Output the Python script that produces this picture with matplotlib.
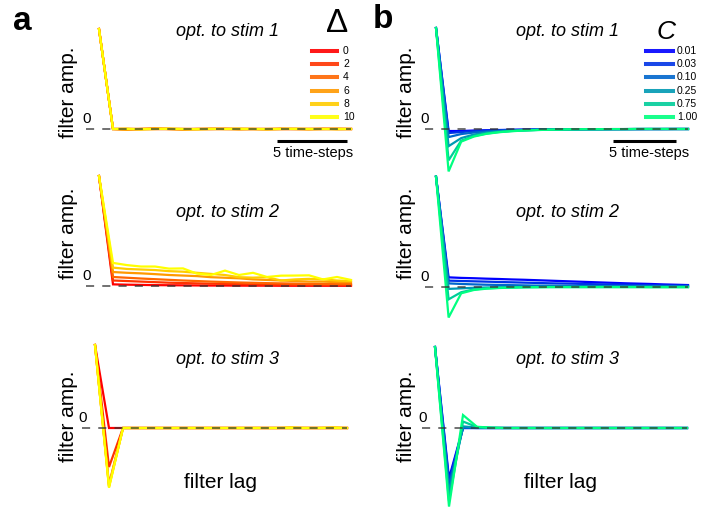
import matplotlib
matplotlib.use("Agg")
import matplotlib.pyplot as plt
from matplotlib.lines import Line2D
import numpy as np

plt.rcParams['font.family'] = ['Liberation Sans', 'DejaVu Sans']

W, H = 701, 508
DPI = 100

# ---------------- data ----------------
delta_labels = ['0', '2', '4', '6', '8', '10']
c_labels = ['0.01', '0.03', '0.10', '0.25', '0.75', '1.00']
titles = ['opt. to stim 1', 'opt. to stim 2', 'opt. to stim 3']

# panel a, stim 1 (lags 0..18)
a1_d0 = [1, 0, 0, 0, 0, 0, 0, 0, 0, 0, 0, 0, 0, 0, 0, 0, 0, 0, 0]
a1_d2 = [1, 0, 0, 0, 0, 0, 0, 0, 0, 0, 0, 0, 0, 0, 0, 0, 0, 0, 0]
a1_d4 = [1, 0, -0.005, 0, 0.004, 0, -0.004, 0, 0, 0.003, 0, 0, -0.003, 0, 0, 0, 0.003, 0, 0]
a1_d6 = [1, 0, -0.008, 0, 0.006, 0, -0.006, 0, 0.004, 0, -0.004, 0, 0, 0.004, 0, -0.004, 0, 0.004, 0]
a1_d8 = [1, 0, 0.004, -0.006, 0, 0.005, 0, -0.005, 0, 0, 0.004, 0, -0.004, 0, 0.003, 0, 0, -0.003, 0]
a1_d10 = [1, 0, 0, 0, 0, 0, 0, 0, 0, 0, 0, 0, 0, 0, 0, 0, 0, 0, 0]

# panel a, stim 2
a2_d0 = [1, 0.015, 0.012, 0.01, 0.008, 0.007, 0.006, 0.005, 0.004, 0.004, 0.003, 0.003, 0.003, 0.002, 0.002, 0.002, 0.002, 0.002, 0.002]
a2_d2 = [1, 0.05, 0.045, 0.04, 0.035, 0.03, 0.027, 0.024, 0.021, 0.019, 0.017, 0.015, 0.013, 0.012, 0.011, 0.01, 0.01, 0.009, 0.009]
a2_d4 = [1, 0.082, 0.075, 0.068, 0.062, 0.056, 0.05, 0.045, 0.04, 0.036, 0.032, 0.029, 0.026, 0.024, 0.022, 0.02, 0.019, 0.018, 0.017]
a2_d6 = [1, 0.127, 0.12, 0.115, 0.108, 0.1, 0.095, 0.09, 0.08, 0.075, 0.07, 0.06, 0.055, 0.05, 0.045, 0.04, 0.04, 0.035, 0.035]
a2_d8 = [1, 0.167, 0.155, 0.15, 0.145, 0.135, 0.13, 0.12, 0.11, 0.1, 0.08, 0.076, 0.08, 0.05, 0.06, 0.065, 0.06, 0.05, 0.045]
a2_d10 = [1, 0.21, 0.19, 0.177, 0.177, 0.158, 0.16, 0.112, 0.1, 0.14, 0.1, 0.12, 0.082, 0.094, 0.095, 0.097, 0.06, 0.082, 0.055]

# panel a, stim 3
a3_d0 = [1, 0, 0, 0, 0, 0, 0, 0, 0, 0, 0, 0, 0, 0, 0, 0, 0, 0, 0]
a3_d2 = [1, -0.47, 0, 0, 0, 0, 0, 0, 0, 0, 0, 0, 0, 0, 0, 0, 0, 0, 0]
a3_d4 = [1, -0.68, 0, 0, 0, 0, 0, 0, 0, 0, 0, 0, 0, 0, 0, 0, 0, 0, 0]
a3_d6 = [1, -0.70, 0, 0, 0, 0, 0, 0, 0, 0, 0, 0, 0, 0, 0, 0, 0, 0, 0]
a3_d8 = [1, -0.71, 0, 0, 0, 0, 0, 0, 0, 0, 0, 0, 0, 0, 0.008, 0, 0, 0.008, 0]
a3_d10 = [1, -0.72, 0, 0, 0, 0, 0, 0, 0, 0, 0, 0, 0, 0, 0, 0, 0, 0, 0]

# panel b, stim 1 (lags 0..20)
b1_c001 = [1, -0.02, -0.02, -0.015, -0.012, -0.01, -0.008, -0.006, -0.005, -0.004, -0.003, -0.003, -0.002, -0.002, -0.002, -0.001, -0.001, -0.001, -0.001, 0, 0]
b1_c003 = [1, -0.04, -0.03, -0.022, -0.016, -0.012, -0.009, -0.007, -0.005, -0.004, -0.003, -0.003, -0.002, -0.002, -0.001, -0.001, -0.001, 0, 0, 0, 0]
b1_c010 = [1, -0.08, -0.05, -0.035, -0.025, -0.018, -0.013, -0.01, -0.007, -0.005, -0.004, -0.003, -0.002, -0.002, -0.001, -0.001, 0, 0, 0, 0, 0]
b1_c025 = [1, -0.17, -0.09, -0.055, -0.035, -0.025, -0.018, -0.013, -0.009, -0.006, -0.004, -0.003, -0.002, -0.002, -0.001, -0.001, 0, 0, 0, 0, 0]
b1_c075 = [1, -0.31, -0.115, -0.07, -0.045, -0.03, -0.02, -0.014, -0.01, -0.007, -0.005, -0.003, -0.002, -0.002, -0.001, -0.001, 0, 0, 0, 0, 0]
b1_c100 = [1, -0.42, -0.125, -0.075, -0.048, -0.032, -0.022, -0.015, -0.01, -0.007, -0.005, -0.003, -0.002, -0.002, -0.001, -0.001, 0, 0, 0, 0, 0]

# panel b, stim 2
b2_c001 = [1, 0.085, 0.08, 0.077, 0.073, 0.07, 0.066, 0.063, 0.059, 0.055, 0.051, 0.047, 0.043, 0.039, 0.035, 0.031, 0.028, 0.025, 0.021, 0.018, 0.015]
b2_c003 = [1, 0.055, 0.052, 0.049, 0.046, 0.043, 0.04, 0.037, 0.034, 0.031, 0.029, 0.027, 0.024, 0.022, 0.02, 0.018, 0.016, 0.014, 0.012, 0.011, 0.01]
b2_c010 = [1, 0.03, 0.025, 0.021, 0.018, 0.016, 0.014, 0.012, 0.01, 0.009, 0.008, 0.007, 0.006, 0.005, 0.005, 0.004, 0.004, 0.003, 0.003, 0.003, 0.002]
b2_c025 = [1, -0.02, -0.015, -0.01, -0.007, -0.005, -0.003, -0.002, -0.001, 0, 0, 0, 0, 0, 0, 0, 0, 0, 0, 0, 0]
b2_c075 = [1, -0.115, -0.05, -0.025, -0.015, -0.01, -0.007, -0.005, -0.004, -0.003, -0.003, -0.003, -0.003, -0.003, -0.003, -0.003, -0.003, -0.003, -0.003, -0.003, -0.003]
b2_c100 = [1, -0.28, -0.06, -0.03, -0.018, -0.012, -0.008, -0.006, -0.005, -0.004, -0.004, -0.004, -0.004, -0.004, -0.004, -0.004, -0.004, -0.005, -0.005, -0.005, -0.005]

# panel b, stim 3 (lags 0..18)
b3_c001 = [1, -0.62, 0, 0, 0, 0, 0, 0, 0, 0, 0, 0, 0, 0, 0, 0, 0, 0, 0]
b3_c003 = [1, -0.66, 0, 0, 0, 0, 0, 0, 0, 0, 0, 0, 0, 0, 0, 0, 0, 0, 0]
b3_c010 = [1, -0.72, 0.005, 0, 0, 0, 0, 0, 0, 0, 0, 0, 0, 0, 0, 0, 0, 0, 0]
b3_c025 = [1, -0.80, 0.02, 0.005, 0, 0, 0, 0, 0, 0, 0, 0, 0, 0, 0, 0, 0, 0, 0]
b3_c075 = [1, -0.90, 0.08, 0.012, 0.003, 0, 0, 0, 0, 0, 0, 0, 0, 0, 0, 0, 0, 0, 0]
b3_c100 = [1, -0.97, 0.16, 0.015, 0.005, 0, 0, 0, 0, 0, 0, 0, 0, 0, 0, 0, 0, 0, 0]

panel_a = [[a1_d0, a1_d2, a1_d4, a1_d6, a1_d8, a1_d10],
           [a2_d0, a2_d2, a2_d4, a2_d6, a2_d8, a2_d10],
           [a3_d0, a3_d2, a3_d4, a3_d6, a3_d8, a3_d10]]
panel_b = [[b1_c001, b1_c003, b1_c010, b1_c025, b1_c075, b1_c100],
           [b2_c001, b2_c003, b2_c010, b2_c025, b2_c075, b2_c100],
           [b3_c001, b3_c003, b3_c010, b3_c025, b3_c075, b3_c100]]

cols_a = [plt.cm.autumn(v) for v in np.linspace(0, 1, 6)]
cols_b = [plt.cm.winter(v) for v in np.linspace(0, 1, 6)]

fig = plt.figure(figsize=(W / DPI, H / DPI), dpi=DPI)

def fx(x):
    return x / W

def fy(y):
    return 1 - y / H

def ftext(x, y, s, **kw):
    fig.text(fx(x), fy(y), s, **kw)

def make_ax(x0, dx, y0, dy, L, R, T, B):
    ax = fig.add_axes([fx(L), fy(B), (R - L) / W, (B - T) / H])
    ax.set_xlim((L - x0) / dx, (R - x0) / dx)
    ax.set_ylim((y0 - B) / dy, (y0 - T) / dy)
    ax.axis('off')
    return ax

# geometry (pixels): lag0 x, lag spacing, zero y, unit height, rect
geo_a = [(99, 14, 129, 100, 78, 362, 16, 180),
         (99, 14, 286, 110, 78, 362, 166, 332),
         (95, 14, 428, 83, 75, 362, 334, 508)]
geo_b = [(436, 12.6, 129, 101, 416, 697, 16, 180),
         (436, 12.6, 286.7, 110, 416, 697, 166, 332),
         (435, 14, 428, 81, 416, 697, 334, 508)]

axes_a, axes_b = [], []
for col, (geos, panel, cols) in enumerate([(geo_a, panel_a, cols_a), (geo_b, panel_b, cols_b)]):
    for row in range(3):
        g = geos[row]
        ax = make_ax(*g)
        n = len(panel[row][0])
        lags = np.arange(n)
        for s, c in zip(panel[row], cols):
            ax.plot(lags, s, color=c, lw=1.6, solid_joinstyle='miter', clip_on=False, zorder=2)
        ax.plot([-0.9, n - 1], [0, 0], color='#333333', alpha=0.75, lw=1.3,
                linestyle=(0, (4.5, 4.5)), zorder=5, clip_on=False)
        # zero label
        ftext(g[0] - 0.88 * g[1], g[2] - 10, '0', fontsize=11, ha='center', va='center')
        (axes_a if col == 0 else axes_b).append(ax)

# scale bars
axes_a[0].plot([12.7, 17.7], [-0.12, -0.12], color='black', lw=2.2, solid_capstyle='butt', clip_on=False)
ftext(313, 153, '5 time-steps', fontsize=10.5, ha='center', va='center')
axes_b[0].plot([14.05, 19.05], [-0.119, -0.119], color='black', lw=2.2, solid_capstyle='butt', clip_on=False)
ftext(649.5, 153, '5 time-steps', fontsize=10.5, ha='center', va='center')

# titles
for y, t in zip([32, 213, 359], titles):
    ftext(227, y, t, fontsize=13, style='italic', ha='center', va='center')
    ftext(567, y, t, fontsize=13, style='italic', ha='center', va='center')

# y labels
for y in [92, 233, 416]:
    ftext(68, y, 'filter amp.', fontsize=15, rotation=90, ha='center', va='center')
    ftext(407, y, 'filter amp.', fontsize=15, rotation=90, ha='center', va='center')

# x labels
ftext(221, 483, 'filter lag', fontsize=15, ha='center', va='center')
ftext(560, 483, 'filter lag', fontsize=15, ha='center', va='center')

# panel letters
ftext(22, 22, 'a', fontsize=24, fontweight='bold', ha='center', va='center')
ftext(383, 20, 'b', fontsize=24, fontweight='bold', ha='center', va='center')

# legends
ftext(337, 24, '\u0394', fontsize=24, ha='center', va='center')
ftext(666, 32, 'C', fontsize=19, style='italic', ha='center', va='center')
for i in range(6):
    y = 51 + 13.2 * i
    fig.add_artist(Line2D([fx(312), fx(337)], [fy(y), fy(y)], color=cols_a[i], lw=2.9,
                          transform=fig.transFigure, alpha=0.9))
    ftext(343, y, delta_labels[i], fontsize=7.5, ha='left', va='center')
    fig.add_artist(Line2D([fx(646), fx(673)], [fy(y), fy(y)], color=cols_b[i], lw=2.9,
                          transform=fig.transFigure, alpha=0.9))
    ftext(677, y, c_labels[i], fontsize=7.5, ha='left', va='center')

fig.savefig('out.png', dpi=DPI)
